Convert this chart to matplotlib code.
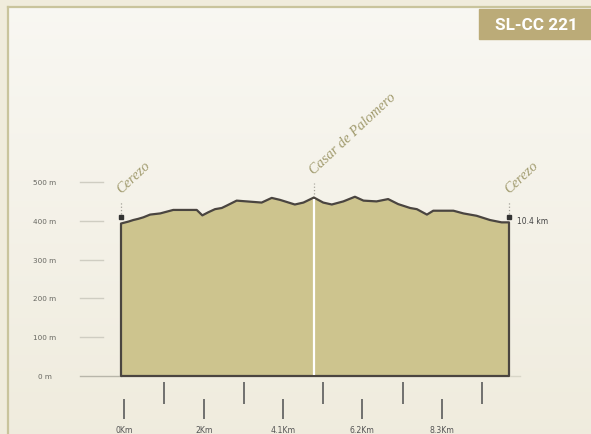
import numpy as np
import matplotlib
matplotlib.use('Agg')
import matplotlib.pyplot as plt
from matplotlib.patches import Rectangle
from matplotlib.lines import Line2D

# elevation profile (km, m)
distance_km = [0.0, 0.20, 0.33, 0.46, 0.60, 0.78, 1.05, 1.40, 2.03, 2.18,
               2.34, 2.52, 2.70, 2.83, 3.10, 3.77, 4.04, 4.26, 4.66, 4.89,
               5.17, 5.42, 5.65, 5.96, 6.27, 6.50, 6.85, 7.16, 7.43, 7.75,
               7.93, 8.20, 8.37, 8.91, 9.18, 9.53, 9.89, 10.20, 10.40]
elevation_m = [393, 398, 402, 405, 409, 416, 419, 428, 428, 414,
               422, 430, 433, 439, 452, 447, 459, 454, 442, 447,
               460, 447, 442, 450, 462, 452, 450, 456, 443, 433,
               430, 416, 426, 426, 419, 413, 402, 396, 396]

waypoint_names = ['Cerezo', 'Casar de Palomero', 'Cerezo']
waypoint_km = [0.0, 5.17, 10.4]
waypoint_marker_m = [410, 460, 410]

y_ticks = [0, 100, 200, 300, 400, 500]
y_labels = ['0 m', '100 m', '200 m', '300 m', '400 m', '500 m']

# km ticks under the profile (two staggered rows)
low_ticks = [0.08, 2.22, 4.34, 6.46, 8.60]
low_labels = ['0Km', '2Km', '4.1Km', '6.2Km', '8.3Km']
high_ticks = [1.15, 3.30, 5.41, 7.55, 9.68]

total_km = 10.4
badge_text = 'SL-CC 221'

W, H = 591, 435
fig = plt.figure(figsize=(W / 100, H / 100), dpi=100)
fig.patch.set_facecolor('#f0ecdc')

# background panel with soft vertical gradient
bg = fig.add_axes([0, 0, 1, 1], zorder=0)
bg.set_xlim(0, W)
bg.set_ylim(H, 0)
bg.axis('off')
grad = np.linspace(0, 1, 256).reshape(-1, 1)
top = np.array([0.975, 0.970, 0.950])
bottom = np.array([0.940, 0.925, 0.870])
img = (top + (bottom - top) * grad[..., None]).reshape(256, 1, 3)
bg.imshow(img, extent=[9, W, H, 9], aspect='auto', interpolation='bilinear')
bg.add_line(Line2D([8, 8], [8, H], color='#c9c49c', lw=1.6))
bg.add_line(Line2D([8, W], [8, 8], color='#c9c49c', lw=1.6))
bg.add_patch(Rectangle((479, 10), W - 479, 30, color='#bbab78'))
bg.text(536, 26, badge_text, color='white', fontsize=12.3, fontweight='bold',
        family='Roboto', ha='center', va='center')

# main profile axes
ax = fig.add_axes([121 / W, (H - 377) / H, 388 / W, 194 / H], zorder=1)
ax.set_xlim(0, total_km)
ax.set_ylim(0, 500)
ax.axis('off')

ax.fill([0] + distance_km + [total_km], [0] + elevation_m + [0],
        facecolor='#cdc48e', edgecolor='#4a4540', lw=1.6, joinstyle='round',
        clip_on=False, zorder=2)

# white line at the midpoint village
casar_elev = np.interp(waypoint_km[1], distance_km, elevation_m)
ax.vlines(waypoint_km[1], 3, casar_elev - 3, color='white', lw=1.6, zorder=3)

# baseline continuation
ax.plot([-1.10, 0], [0, 0], color='#b8b6aa', lw=1, clip_on=False, zorder=1)
ax.plot([total_km, 10.7], [0, 0], color='#d8d6c8', lw=1, clip_on=False, zorder=1)

# y labels and short grid marks
for v, lab in zip(y_ticks, y_labels):
    ax.text(-2.04, v, lab, fontsize=5.2, color='#666660', ha='center',
            va='center', clip_on=False)
    if v > 0:
        ax.plot([-1.10, -0.48], [v, v], color='#cfcdc2', lw=1, clip_on=False)

# waypoints
for name, km, m in zip(waypoint_names, waypoint_km, waypoint_marker_m):
    ax.vlines(km, m + 8, m + 38, color='#a5a39a', lw=0.9, linestyles=':',
              clip_on=False)
    if name == 'Cerezo':
        ax.plot(km, m, 's', color='#333333', ms=2.5, clip_on=False, zorder=4)
    ax.annotate(name, (km, m), xytext=(0, 17), textcoords='offset points',
                rotation=43, rotation_mode='anchor', ha='left', va='baseline',
                fontsize=10.4, fontstyle='italic', family='Liberation Serif',
                color='#a19b6e', annotation_clip=False)

ax.text(10.62, 400, f'{total_km} km', fontsize=5.5, color='#444444',
        ha='left', va='center', clip_on=False)

# km ticks
ax.vlines(low_ticks, -111, -59, color='#666666', lw=1.3, clip_on=False)
ax.vlines(high_ticks, -72, -16, color='#666666', lw=1.3, clip_on=False)
for km, lab in zip(low_ticks, low_labels):
    ax.text(km, -137, lab, fontsize=5.6, color='#555555', ha='center',
            va='center', clip_on=False)

fig.savefig('out.png', dpi=100, facecolor=fig.get_facecolor())
